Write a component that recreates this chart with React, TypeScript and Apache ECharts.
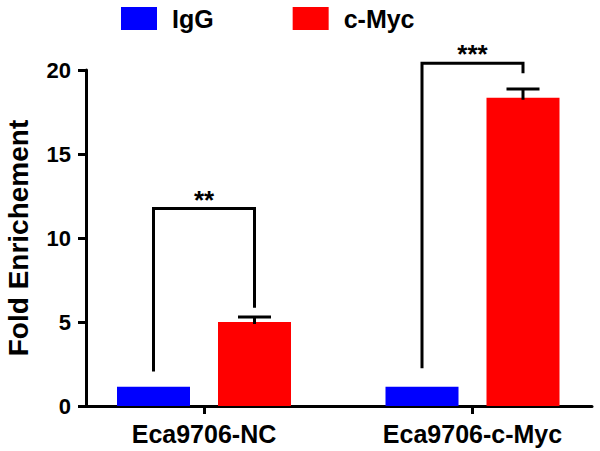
import React, { useEffect, useRef } from "react";
import * as echarts from "echarts";

const categories = ["Eca9706-NC", "Eca9706-c-Myc"];
const seriesNames = ["IgG", "c-Myc"];
const iggValues = [1.15, 1.15];
const mycValues = [5.0, 18.35];
const mycErrors = [0.3, 0.52];
const yMin = 0;
const yMax = 20;
const yInterval = 5;
// significance brackets (values on the y scale)
const bracketTops = [11.75, 20.4];
const bracketLeftBottoms = [2.05, 2.25];
const bracketRightBottoms = [5.85, 19.8];
const significance = ["**", "***"];

const FONT = "Liberation Sans, Arial, Helvetica, sans-serif";
const BAR_W = 73;
const BAR_GAP = 28;
const OFFSET = (BAR_W + BAR_GAP) / 2;

export default function App() {
  const ref = useRef<HTMLDivElement>(null);
  useEffect(() => {
    document.body.style.margin = "0";
    if (!ref.current) return;
    const chart = echarts.init(ref.current, null, { renderer: "svg" });
    const gridTop = 70;
    const gridBottom = 45;
    const option: any = {
      animation: false,
      backgroundColor: "#ffffff",
      legend: {
        data: seriesNames,
        top: 1,
        left: 116,
        itemWidth: 36,
        itemHeight: 23,
        itemGap: 79,
        icon: "rect",
        textStyle: {
          fontSize: 25,
          fontWeight: "bold",
          fontFamily: FONT,
          color: "#000",
          padding: [0, 0, 0, 10],
        },
      },
      grid: [
        {
          left: 69.75,
          width: 537,
          top: gridTop,
          bottom: gridBottom,
          outerBoundsMode: "none",
          containLabel: false,
        },
        { left: 86, right: 8, top: gridTop, bottom: gridBottom, outerBoundsMode: "none" },
      ],
      xAxis: [
        {
          type: "category",
          gridIndex: 0,
          data: categories,
          axisLine: { show: false },
          axisTick: {
            show: true,
            alignWithLabel: true,
            length: 8,
            lineStyle: { color: "#000", width: 3 },
          },
          axisLabel: {
            fontSize: 25,
            fontWeight: "bold",
            fontFamily: FONT,
            color: "#000",
            margin: 15,
          },
          splitLine: { show: false },
        },
        {
          type: "value",
          gridIndex: 1,
          min: 0,
          max: 1,
          axisLine: { show: true, lineStyle: { color: "#000", width: 3 } },
          axisTick: { show: false },
          axisLabel: { show: false },
          splitLine: { show: false },
        },
      ],
      yAxis: [
        {
          type: "value",
          gridIndex: 0,
          min: yMin,
          max: yMax,
          interval: yInterval,
          show: false,
        },
        {
          type: "value",
          gridIndex: 1,
          min: yMin,
          max: yMax,
          interval: yInterval,
          name: "Fold Enrichement",
          nameLocation: "middle",
          nameGap: 54,
          nameTextStyle: {
            fontSize: 28,
            fontWeight: "bold",
            fontFamily: FONT,
            color: "#000",
          },
          axisLine: { show: true, lineStyle: { color: "#000", width: 3 } },
          axisTick: { show: true, length: 8, lineStyle: { color: "#000", width: 3 } },
          axisLabel: {
            fontSize: 22,
            fontWeight: "bold",
            fontFamily: FONT,
            color: "#000",
            margin: 15,
          },
          splitLine: { show: false },
        },
      ],
      series: [
        {
          name: seriesNames[0],
          type: "bar",
          xAxisIndex: 0,
          yAxisIndex: 0,
          data: iggValues,
          barWidth: BAR_W,
          barGap: (BAR_GAP / BAR_W) * 100 + "%",
          itemStyle: { color: "#0000ff" },
          z: 2,
        },
        {
          name: seriesNames[1],
          type: "bar",
          xAxisIndex: 0,
          yAxisIndex: 0,
          data: mycValues,
          barWidth: BAR_W,
          barGap: (BAR_GAP / BAR_W) * 100 + "%",
          itemStyle: { color: "#ff0000" },
          z: 2,
        },
        {
          type: "custom",
          name: "err",
          xAxisIndex: 0,
          yAxisIndex: 0,
          silent: true,
          z: 3,
          data: mycValues.map((v, i) => [i, v, v + mycErrors[i]]),
          renderItem: (params: any, api: any) => {
            const cat = api.value(0);
            const lo = api.coord([cat, api.value(1)]);
            const hi = api.coord([cat, api.value(2)]);
            const x = lo[0] + OFFSET;
            return {
              type: "group",
              children: [
                {
                  type: "line",
                  shape: { x1: x, y1: lo[1] + 2, x2: x, y2: hi[1] },
                  style: { stroke: "#000", lineWidth: 3 },
                },
                {
                  type: "line",
                  shape: { x1: x - 16.5, y1: hi[1], x2: x + 16.5, y2: hi[1] },
                  style: { stroke: "#000", lineWidth: 3 },
                },
              ],
            };
          },
        },
        {
          type: "custom",
          name: "brackets",
          xAxisIndex: 0,
          yAxisIndex: 0,
          silent: true,
          z: 3,
          data: categories.map((_, i) => [
            i,
            bracketTops[i],
            bracketLeftBottoms[i],
            bracketRightBottoms[i],
          ]),
          renderItem: (params: any, api: any) => {
            const cat = api.value(0);
            const top = api.coord([cat, api.value(1)]);
            const lb = api.coord([cat, api.value(2)]);
            const rb = api.coord([cat, api.value(3)]);
            const xl = top[0] - OFFSET;
            const xr = top[0] + OFFSET;
            return {
              type: "group",
              children: [
                {
                  type: "polyline",
                  shape: {
                    points: [
                      [xl, lb[1]],
                      [xl, top[1]],
                      [xr, top[1]],
                      [xr, rb[1]],
                    ],
                  },
                  style: { stroke: "#000", lineWidth: 3, fill: "none", lineJoin: "miter" },
                },
                {
                  type: "text",
                  style: {
                    text: significance[params.dataIndex],
                    x: (xl + xr) / 2,
                    y: top[1] + 4,
                    align: "center",
                    verticalAlign: "bottom",
                    fontSize: 26,
                    fontWeight: "bold",
                    fontFamily: FONT,
                    fill: "#000",
                  },
                },
              ],
            };
          },
        },
      ],
    };
    chart.setOption(option);
    return () => chart.dispose();
  }, []);
  return <div ref={ref} style={{ width: 600, height: 451 }} />;
}
